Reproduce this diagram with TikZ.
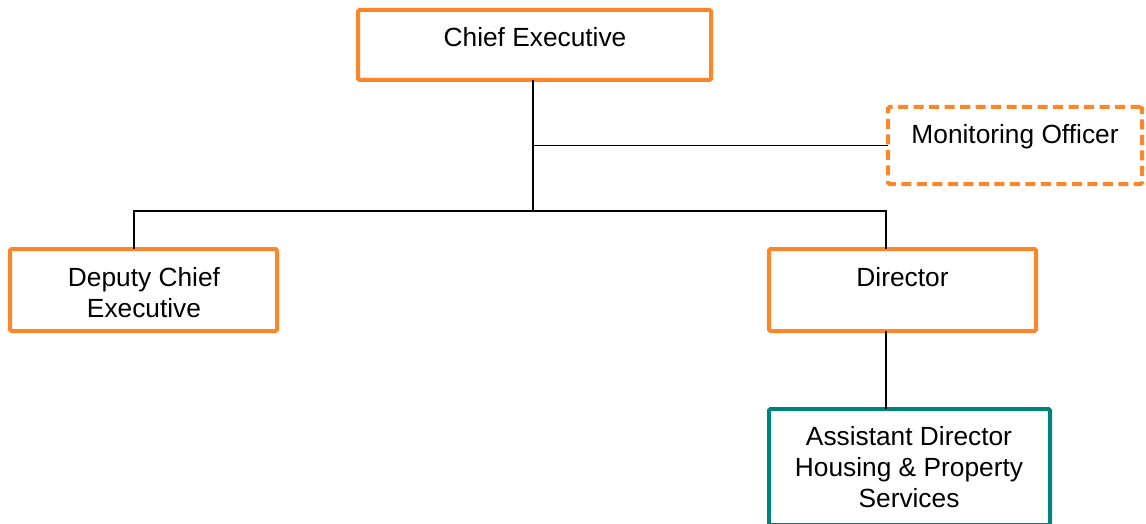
\documentclass[tikz,border=0pt]{standalone}
\usepackage{fontspec}
\setmainfont{Liberation Sans}
\definecolor{orgorange}{RGB}{253,134,40}
\definecolor{orgteal}{RGB}{0,131,122}
\begin{document}
\begin{tikzpicture}[x=1pt,y=-1pt,
  obox/.style={draw=orgorange,line width=4pt,rectangle,rounded corners=1.5pt,outer sep=0pt,inner sep=0pt},
  dbox/.style={obox,dash pattern=on 10pt off 5.5pt},
  tbox/.style={obox,draw=orgteal},
  lbl/.style={font=\fontsize{26.3pt}{31pt}\selectfont,align=center,inner sep=0pt,anchor=base},
  conn/.style={draw=black,line width=1.7pt}]
\useasboundingbox (0,0) rectangle (1146,524);
% boxes
\node[obox,minimum width=353pt,minimum height=70pt] (ce) at (534.5,45) {};
\node[dbox,minimum width=254pt,minimum height=77pt] (mo) at (1015,145.5) {};
\node[obox,minimum width=267pt,minimum height=82pt] (dce) at (143.5,290) {};
\node[obox,minimum width=267pt,minimum height=82pt] (dir) at (902.5,290) {};
\node[tbox,minimum width=281pt,minimum height=116pt] (ad) at (909.5,467) {};
% labels
\node[lbl] (cet) at (535,47) {Chief Executive};
\node[lbl] (mot) at (1015,143) {Monitoring Officer};
\node[lbl] (dcet) at (144,317) {Deputy Chief\\Executive};
\node[lbl] (dirt) at (902.5,286) {Director};
\node[lbl] (adt) at (909,507) {Assistant Director\\Housing \& Property\\Services};
% connectors
\coordinate (jc) at (533,211);
\coordinate (jl) at (134,211);
\coordinate (jr) at (886,211);
\draw[conn] (ce.south -| jc) -- (jc);
\draw[conn] (mo.west -| jc) -- (mo.west);
\draw[conn] (dce.north -| jl) -- (jl) -- (jr) -- (dir.north -| jr);
\draw[conn] (dir.south -| jr) -- (ad.north -| jr);
\end{tikzpicture}
\end{document}
